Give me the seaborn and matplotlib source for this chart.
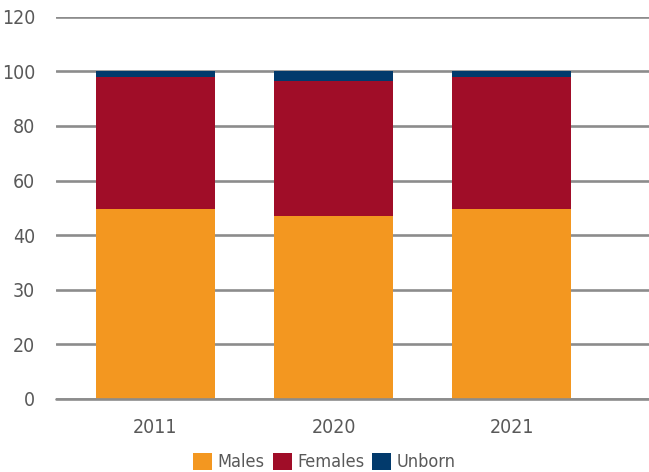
import numpy as np
import matplotlib
matplotlib.use('Agg')
import matplotlib.pyplot as plt
import seaborn as sns
import pandas as pd

# Data (bars stack to 100)
years = ["2011", "2020", "2021"]
males = [58.1, 55.8, 58.1]
females = [40.2, 41.3, 40.2]
unborn = [1.7, 2.9, 1.7]

# the value axis has 8 evenly spaced gridlines, 100 sits on the 7th one
tick_labels = ["0", "20", "30", "40", "60", "80", "100", "120"]

colors = {"Males": "#F39720", "Females": "#A00D28", "Unborn": "#023A6C"}
grey_txt = "#595959"

sns.set_theme(style="white")
plt.rcParams['font.family'] = ['DejaVu Sans']
plt.rcParams['font.stretch'] = 'condensed'

fig = plt.figure(figsize=(6.49, 4.72), dpi=100)
ax = fig.add_axes([0.0863, 0.1547, 0.913, 0.81])

df = pd.DataFrame({"year": years, "Males": males, "Females": females, "Unborn": unborn})
bottom = np.zeros(len(years))
for name in ["Males", "Females", "Unborn"]:
    sns.barplot(data=df, x="year", y=name, color=colors[name], bottom=bottom,
                width=0.667, errorbar=None, saturation=1, ax=ax, label=name,
                linewidth=0, zorder=3)
    bottom = bottom + df[name].to_numpy()

step = 100 / 6
ax.set_yticks([k * step for k in range(8)])
ax.set_yticklabels(tick_labels)
ax.set_ylim(0, 7 * step)
ax.set_xlim(-0.558, 2.768)
ax.yaxis.grid(True, color="#8C8C8C", linewidth=1.9, zorder=0)
ax.set_axisbelow(True)
for s in ax.spines.values():
    s.set_visible(False)
ax.axhline(0, color="#8C8C8C", linewidth=1.9, zorder=4, clip_on=False)

ax.set_xlabel("")
ax.set_ylabel("")
ax.tick_params(axis="y", length=0, pad=15, labelsize=14, labelcolor=grey_txt)
ax.tick_params(axis="x", length=0, pad=14, labelsize=14, labelcolor=grey_txt)

ax.legend(loc="lower center", bbox_to_anchor=(0.5, -0.014), bbox_transform=fig.transFigure,
          ncol=3, frameon=False,
          fontsize=13, labelcolor=grey_txt, handlelength=1.05, handleheight=1.05,
          handletextpad=0.3, columnspacing=0.45, borderaxespad=0)

fig.savefig("out.png", dpi=100, facecolor="white")
